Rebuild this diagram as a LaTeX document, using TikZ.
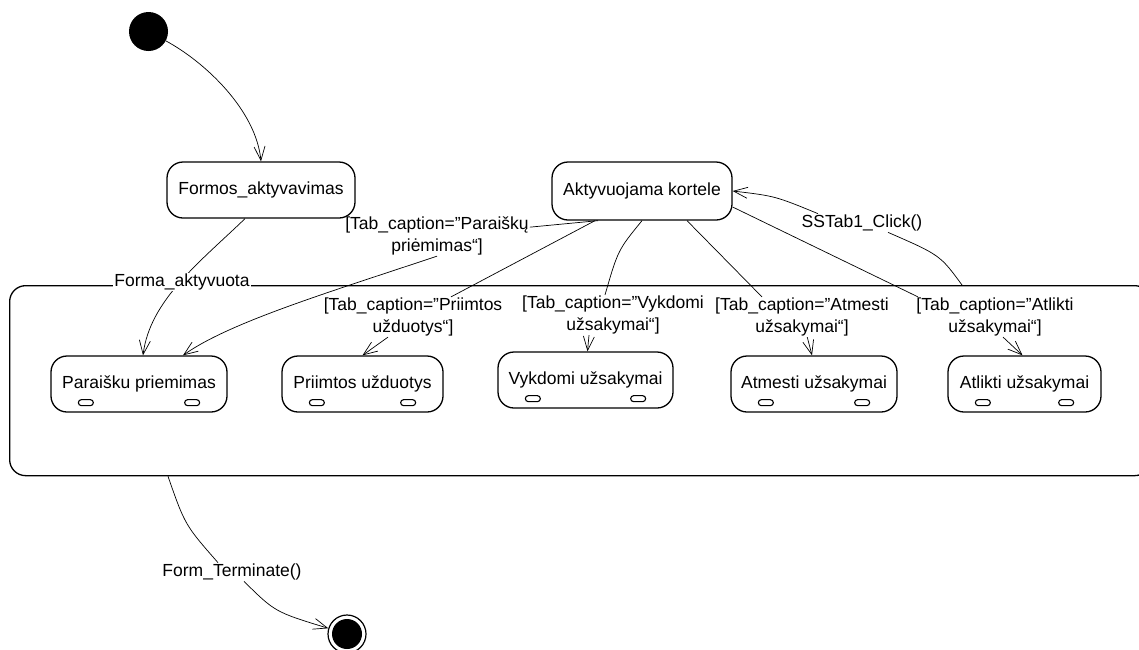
\documentclass[tikz,border=0pt]{standalone}
\usepackage{fontspec}
\setmainfont{Liberation Sans}
\usetikzlibrary{arrows.meta}
\newcommand\stateslots[1]{%
  \draw[slot] ([xshift=28pt,yshift=7pt]#1.south west) rectangle +(15,-6);
  \draw[slot] ([xshift=-43pt,yshift=7pt]#1.south east) rectangle +(15,-6);}
\begin{document}
\begin{tikzpicture}[x=1pt,y=-1pt,
  every node/.style={font=\fontsize{17.5}{21.5}\selectfont},
  state/.style={draw, line width=1.3pt, rounded corners=16pt, inner sep=0pt},
  trans/.style={line width=0.7pt, -{Straight Barb[length=14pt,width=11pt]}},
  link/.style={line width=0.7pt},
  guard/.style={align=center, inner sep=1pt},
  slot/.style={line width=1.1pt, rounded corners=3pt}
]
\useasboundingbox (0,0) rectangle (1139,649);

% pseudo states
\node[circle, fill=black, inner sep=0pt, minimum size=39pt] (init) at (148.5,31.5) {};
\node[circle, draw, line width=1.2pt, inner sep=0pt, minimum size=38pt] (fin) at (347,634) {};
\fill (fin.center) circle (15pt);

% top level states
\node[state, minimum width=188pt, minimum height=56pt] (formos) at (261,190) {Formos\_aktyvavimas};
\node[state, minimum width=180pt, minimum height=58pt] (akt) at (642,191) {Aktyvuojama kortele};

% composite state
\node[state, anchor=north west, minimum width=1141pt, minimum height=190pt] (forma) at (9,285) {};

% sub states
\node[state, minimum width=176pt, minimum height=56pt] (s1) at (139,384) {Paraišku priemimas};
\node[state, minimum width=161pt, minimum height=56pt] (s2) at (362.5,384) {Priimtos užduotys};
\node[state, minimum width=175pt, minimum height=56pt] (s3) at (585.5,380) {Vykdomi užsakymai};
\node[state, minimum width=166pt, minimum height=56pt] (s4) at (814,384) {Atmesti užsakymai};
\node[state, minimum width=153pt, minimum height=56pt] (s5) at (1024.5,384) {Atlikti užsakymai};
\stateslots{s1}
\stateslots{s2}
\stateslots{s3}
\stateslots{s4}
\stateslots{s5}

% guard and event labels
\node[guard] (lp) at (437,236) {[Tab\_caption=”Paraiškų\\priėmimas“]};
\node[guard] (lpr) at (413,317) {[Tab\_caption=”Priimtos\\užduotys“]};
\node[guard] (lv) at (613,315) {[Tab\_caption=”Vykdomi\\užsakymai“]};
\node[guard] (la) at (802,317) {[Tab\_caption=”Atmesti\\užsakymai“]};
\node[guard] (lat) at (995,317) {[Tab\_caption=”Atlikti\\užsakymai“]};
\node[guard] (lss) at (862,223) {SSTab1\_Click()};
\node[guard] (lft) at (232,572) {Form\_Terminate()};

% transitions
\draw[trans] (init) .. controls (205,62) and (256,110) .. (formos.north);
\draw[trans] ([xshift=-16pt]formos.south) .. controls (200,262) and (150,300) .. ([xshift=4pt]s1.north);

\draw[link] ([xshift=-44pt]akt.south) -- (lp);
\draw[trans] (lp.south) .. controls (330,292) and (230,322) .. ([xshift=44pt]s1.north);

\draw[link] ([xshift=-47pt]akt.south) -- (lpr);
\draw[trans] ([xshift=-25pt]lpr.south) -- (s2.north);

\draw[link] (akt.south) .. controls (618,250) .. ([xshift=-8pt]lv.north);
\draw[trans] ([xshift=-24pt]lv.south) -- ([xshift=2pt]s3.north);

\draw[link] ([xshift=45pt]akt.south) -- ([xshift=-40pt]la.north);
\draw[trans] (la) -- ([xshift=-2pt]s4.north);

\draw[link] ([yshift=-16pt]akt.east) -- ([xshift=-77pt]lat.north);
\draw[trans] ([xshift=8pt]lat.south) -- ([xshift=-2pt]s5.north);

\draw[link] ([xshift=953pt]forma.north west) .. controls (940,255) .. ([xshift=26pt]lss.south);
\draw[trans] ([xshift=-44pt]lss.north) .. controls (775,196) .. (akt.east);

\draw[link] ([xshift=159pt]forma.south west) .. controls (185,525) .. ([xshift=-14pt]lft.north);
\draw[trans] ([xshift=12pt]lft.south) .. controls (275,612) .. (fin);

% event label sitting on the composite state's border
\node[fill=white, inner sep=1pt] (lfa) at (182,282) {Forma\_aktyvuota};
\end{tikzpicture}
\end{document}
